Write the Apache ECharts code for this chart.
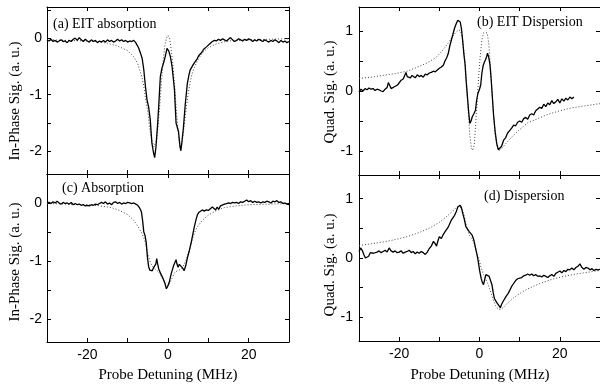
<!DOCTYPE html>
<html><head><meta charset="utf-8">
<script src="https://cdn.jsdelivr.net/npm/echarts@6/dist/echarts.min.js"></script>
<style>html,body{margin:0;padding:0;background:#fff}#c{width:600px;height:388px}</style>
</head><body><div id="c"></div>
<script>
// ---- tick / label values ----
const xTicks = [-30,-20,-10,0,10,20,30];
const xLabels = [-20,0,20];
const yTicksIn = [-2,-1.5,-1,-0.5,0,0.5];
const yLabelsIn = [-2,-1,0];
const yTicksQuad = [-1,-0.5,0,0.5,1];
const yLabelsQuad = [-1,0,1];

// ---- (a) EIT absorption ----
const aMeasured = [[-30,-0.03],[-29.5,-0.05],[-29,-0.02],[-28.5,-0.06],[-28,-0.04],[-27.5,-0.07],[-27,-0.05],[-26.5,-0.03],[-26,-0.06],[-25.5,-0.05],[-25,-0.08],[-24.5,-0.04],[-24,-0.06],[-23.5,-0.02],[-23,0.0],[-22.5,-0.04],[-22,0.01],[-21.5,-0.03],[-21,-0.06],[-20.5,-0.02],[-20,-0.05],[-19.5,-0.07],[-19,-0.03],[-18.5,-0.06],[-18,-0.04],[-17.5,-0.08],[-17,-0.05],[-16.5,-0.07],[-16,-0.04],[-15.5,-0.07],[-15,-0.03],[-14.5,-0.06],[-14,-0.04],[-13.5,-0.07],[-13,-0.05],[-12.5,-0.02],[-12,-0.05],[-11.5,-0.03],[-11,-0.06],[-10.5,-0.04],[-10,-0.07],[-9.5,-0.05],[-9,-0.06],[-8.5,-0.04],[-8,-0.08],[-7.7,-0.12],[-7.3,-0.17],[-6.8,-0.27],[-6.4,-0.36],[-6.0,-0.56],[-5.6,-0.85],[-5.2,-1.09],[-4.8,-1.22],[-4.4,-1.44],[-4.0,-1.85],[-3.6,-2.02],[-3.3,-2.11],[-3.0,-1.93],[-2.6,-1.55],[-2.3,-1.2],[-1.9,-0.68],[-1.5,-0.53],[-1.1,-0.44],[-0.7,-0.33],[-0.25,-0.18],[0.2,-0.23],[0.6,-0.33],[1.0,-0.5],[1.3,-0.7],[1.6,-0.91],[2.0,-1.5],[2.2,-1.55],[2.4,-1.6],[2.6,-1.65],[2.8,-1.79],[3.0,-1.93],[3.2,-1.99],[3.5,-1.8],[3.8,-1.6],[4.3,-1.15],[4.8,-0.8],[5.2,-0.65],[5.5,-0.56],[6.0,-0.5],[6.2,-0.53],[6.4,-0.45],[6.8,-0.42],[7.2,-0.37],[7.4,-0.4],[7.6,-0.31],[8.0,-0.28],[8.4,-0.25],[8.6,-0.28],[8.8,-0.2],[9.2,-0.2],[9.6,-0.15],[10.0,-0.12],[10.5,-0.09],[11,-0.06],[11.5,-0.04],[12,-0.05],[12.5,-0.02],[13,-0.04],[13.5,-0.01],[14,-0.03],[14.5,-0.05],[15,-0.02],[15.5,0.01],[16,-0.03],[16.5,-0.06],[17,-0.04],[17.5,-0.01],[18,-0.03],[18.5,-0.05],[19,-0.02],[19.5,-0.04],[20,-0.01],[20.5,-0.03],[21,-0.06],[21.5,-0.03],[22,-0.05],[22.5,-0.02],[23,-0.04],[23.5,-0.06],[24,-0.03],[24.5,-0.05],[25,-0.07],[25.5,-0.04],[26,-0.06],[26.5,-0.03],[27,-0.05],[27.5,-0.08],[28,-0.04],[28.5,-0.07],[29,-0.05],[29.5,-0.08],[30,-0.06]];
const aFit = [[-30,-0.03],[-25,-0.04],[-20,-0.05],[-17.5,-0.06],[-15,-0.09],[-12.5,-0.14],[-10,-0.22],[-8.5,-0.33],[-7.5,-0.45],[-6.5,-0.68],[-6,-0.85],[-5.5,-1.1],[-5,-1.3],[-4.5,-1.62],[-4,-1.8],[-3.5,-1.92],[-3.2,-1.94],[-2.8,-1.8],[-2.4,-1.5],[-2,-1.15],[-1.6,-0.75],[-1.2,-0.4],[-0.8,-0.14],[-0.4,0.0],[0,0.05],[0.4,0.0],[0.8,-0.2],[1.2,-0.45],[1.6,-0.8],[2.0,-1.2],[2.4,-1.55],[2.8,-1.85],[3.1,-1.94],[3.5,-1.85],[4,-1.56],[4.5,-1.25],[5,-0.98],[5.5,-0.78],[6,-0.62],[6.5,-0.52],[7.5,-0.37],[8.5,-0.26],[10,-0.17],[12,-0.1],[15,-0.05],[20,-0.03],[25,-0.02],[30,-0.01]];

// ---- (c) Absorption ----
const cMeasured = [[-30,0.0],[-29.5,0.01],[-29,-0.01],[-28.5,0.02],[-28,0.0],[-27.5,0.03],[-27,0.0],[-26.5,-0.02],[-26,0.01],[-25.5,-0.01],[-25,0.0],[-24.5,-0.02],[-24,0.01],[-23.5,-0.03],[-23,-0.01],[-22.5,-0.03],[-22,-0.02],[-21.5,-0.04],[-21,-0.03],[-20.5,-0.05],[-20,-0.04],[-19.5,-0.05],[-19,-0.03],[-18.5,-0.04],[-18,-0.02],[-17.5,-0.03],[-17,-0.01],[-16.5,0.01],[-16,-0.01],[-15.5,0.02],[-15,-0.02],[-14.5,0.0],[-14,-0.03],[-13.5,0.01],[-13,0.02],[-12.5,-0.01],[-12,0.01],[-11.5,-0.02],[-11,0.0],[-10.5,-0.01],[-10,0.01],[-9.5,0.0],[-9,-0.01],[-8.5,0.0],[-8,-0.02],[-7.5,-0.04],[-7,-0.09],[-6.6,-0.15],[-6.3,-0.3],[-6.0,-0.5],[-5.7,-0.56],[-5.4,-0.68],[-5.1,-0.94],[-4.8,-1.1],[-4.5,-1.16],[-4.2,-1.14],[-3.9,-1.17],[-3.6,-1.12],[-3.3,-1.1],[-3.0,-1.05],[-2.8,-0.96],[-2.6,-1.04],[-2.3,-1.14],[-2.0,-1.12],[-1.8,-1.22],[-1.5,-1.25],[-1.2,-1.31],[-0.8,-1.38],[-0.4,-1.48],[0.0,-1.43],[0.3,-1.37],[0.8,-1.22],[1.1,-1.15],[1.4,-1.08],[1.7,-1.05],[2.0,-0.98],[2.2,-1.05],[2.5,-1.11],[2.8,-1.06],[3.2,-1.08],[3.6,-1.12],[4.0,-1.17],[4.4,-1.08],[4.8,-0.95],[5.3,-0.82],[5.7,-0.7],[6.1,-0.56],[6.5,-0.42],[6.9,-0.3],[7.3,-0.2],[7.7,-0.16],[8.1,-0.13],[8.5,-0.12],[9,-0.14],[9.5,-0.12],[10,-0.13],[10.5,-0.1],[11,-0.07],[11.4,-0.07],[11.8,-0.12],[12.2,-0.07],[12.6,-0.11],[13,-0.05],[13.4,-0.06],[14,-0.02],[14.5,-0.01],[15,0.0],[15.5,-0.01],[16,0.01],[16.5,0.0],[17,0.01],[17.5,-0.01],[18,0.02],[18.5,0.01],[19,0.03],[19.5,0.05],[20,0.02],[20.5,0.04],[21,0.01],[21.5,0.03],[22,0.01],[22.5,0.02],[23,0.0],[23.5,0.02],[24,0.01],[24.5,0.03],[25,0.02],[25.5,0.0],[26,0.03],[26.5,0.02],[27,0.04],[27.5,0.01],[28,0.02],[28.5,-0.01],[29,0.0],[29.5,-0.02],[30,-0.03]];
const cFit = [[-30,-0.01],[-25,-0.02],[-20,-0.03],[-17,-0.05],[-14,-0.08],[-12,-0.13],[-10,-0.2],[-8.5,-0.3],[-7.5,-0.4],[-6.5,-0.52],[-6,-0.6],[-5.5,-0.72],[-5,-0.88],[-4.5,-1.0],[-4,-1.08],[-3.5,-1.12],[-3,-1.15],[-2.5,-1.18],[-2,-1.22],[-1.5,-1.28],[-1,-1.35],[-0.5,-1.4],[0,-1.43],[0.5,-1.38],[1,-1.3],[1.5,-1.22],[2,-1.18],[2.5,-1.17],[3,-1.15],[3.5,-1.12],[4,-1.06],[4.5,-0.98],[5,-0.88],[5.5,-0.76],[6,-0.64],[6.5,-0.53],[7,-0.45],[7.5,-0.39],[8.5,-0.3],[10,-0.21],[12,-0.13],[14,-0.08],[17,-0.05],[20,-0.03],[25,-0.02],[30,-0.01]];

// ---- (b) EIT Dispersion ----
const bMeasured = [[-30,-0.02],[-29.5,0.03],[-29,0.0],[-28.5,0.04],[-28,0.02],[-27.5,0.05],[-27,0.03],[-26.5,0.04],[-26,0.01],[-25.5,0.03],[-25,0.02],[-24.5,0.0],[-24,-0.01],[-23.5,0.03],[-23,0.06],[-22.7,0.14],[-22.4,0.1],[-22,0.04],[-21.6,0.03],[-21.2,0.07],[-20.8,0.05],[-20.4,0.1],[-20,0.12],[-19.5,0.18],[-19,0.2],[-18.6,0.2],[-18.3,0.31],[-18,0.24],[-17.6,0.27],[-17.2,0.22],[-16.8,0.26],[-16.4,0.24],[-16,0.22],[-15.5,0.27],[-15,0.24],[-14.5,0.26],[-14,0.23],[-13.5,0.28],[-13,0.27],[-12.5,0.3],[-12,0.31],[-11.5,0.33],[-11,0.32],[-10.5,0.35],[-10,0.38],[-9.5,0.4],[-9,0.43],[-8.6,0.5],[-8.2,0.55],[-7.8,0.62],[-7.4,0.75],[-7,0.85],[-6.6,0.95],[-6.2,1.05],[-5.8,1.12],[-5.4,1.18],[-5.1,1.21],[-4.8,1.15],[-4.5,1.04],[-4.2,0.85],[-3.9,0.62],[-3.6,0.45],[-3.3,0.15],[-3.0,-0.1],[-2.7,-0.35],[-2.4,-0.54],[-2.1,-0.5],[-1.8,-0.43],[-1.4,-0.38],[-1.0,-0.32],[-0.7,-0.15],[-0.4,-0.04],[0.0,0.03],[0.3,0.1],[0.6,0.3],[0.9,0.42],[1.2,0.48],[1.5,0.52],[1.8,0.58],[2.0,0.63],[2.3,0.56],[2.6,0.44],[2.9,0.2],[3.2,-0.1],[3.5,-0.4],[3.9,-0.68],[4.3,-0.88],[4.7,-0.98],[5.1,-0.99],[5.5,-0.92],[6,-0.82],[6.5,-0.78],[7,-0.7],[7.5,-0.66],[8,-0.62],[8.5,-0.57],[9,-0.58],[9.5,-0.52],[10,-0.5],[10.5,-0.52],[11,-0.46],[11.5,-0.44],[12,-0.47],[12.5,-0.4],[13,-0.38],[13.5,-0.4],[14,-0.33],[14.5,-0.3],[15,-0.27],[15.5,-0.29],[16,-0.22],[16.5,-0.26],[17,-0.2],[17.5,-0.23],[18,-0.16],[18.5,-0.21],[19,-0.18],[19.5,-0.14],[20,-0.2],[20.5,-0.13],[21,-0.17],[21.5,-0.12],[22,-0.15],[22.5,-0.1],[23,-0.13],[23.5,-0.1]];
const bFit = [[-30,0.21],[-27,0.23],[-24,0.26],[-21,0.29],[-18,0.33],[-15,0.41],[-13,0.47],[-11,0.55],[-9.5,0.65],[-8,0.78],[-7,0.88],[-6,0.97],[-5.2,1.02],[-4.7,1.0],[-4.2,0.85],[-3.7,0.55],[-3.2,0.1],[-2.8,-0.35],[-2.4,-0.75],[-2.0,-0.95],[-1.7,-0.99],[-1.3,-0.9],[-1.0,-0.6],[-0.6,-0.2],[-0.2,0.25],[0.2,0.6],[0.6,0.85],[1.0,0.97],[1.4,1.0],[1.9,0.97],[2.3,0.8],[2.7,0.45],[3.1,0.0],[3.5,-0.4],[3.9,-0.72],[4.4,-0.92],[4.9,-0.99],[5.5,-0.96],[6.5,-0.88],[8,-0.77],[9.7,-0.66],[12,-0.53],[14.5,-0.46],[17,-0.39],[20,-0.33],[23,-0.28],[26,-0.25],[30,-0.21]];

// ---- (d) Dispersion ----
const dMeasured = [[-30,0.11],[-29.6,0.17],[-29.2,0.13],[-28.8,0.06],[-28.4,0.0],[-28,-0.02],[-27.6,0.03],[-27.2,0.09],[-26.8,0.1],[-26.4,0.08],[-26,0.11],[-25.5,0.1],[-25,0.12],[-24.5,0.09],[-24,0.11],[-23.5,0.13],[-23,0.1],[-22.5,0.17],[-22,0.12],[-21.5,0.1],[-21,0.12],[-20.5,0.09],[-20,0.1],[-19.5,0.12],[-19,0.08],[-18.5,0.1],[-18,0.11],[-17.5,0.13],[-17,0.09],[-16.5,0.11],[-16,0.07],[-15.5,0.1],[-15,0.08],[-14.5,0.11],[-14,0.09],[-13.5,0.06],[-13,0.1],[-12.5,0.16],[-12,0.2],[-11.5,0.28],[-11,0.24],[-10.7,0.2],[-10.3,0.3],[-10,0.36],[-9.5,0.33],[-9,0.4],[-8.6,0.44],[-8.2,0.42],[-7.8,0.52],[-7.4,0.55],[-7,0.64],[-6.6,0.68],[-6.2,0.72],[-5.8,0.78],[-5.4,0.86],[-5.1,0.83],[-4.8,0.89],[-4.5,0.85],[-4.2,0.76],[-3.8,0.66],[-3.4,0.53],[-3.0,0.5],[-2.6,0.45],[-2.2,0.42],[-1.8,0.38],[-1.4,0.3],[-1.0,0.17],[-0.6,0.05],[-0.3,-0.06],[0.0,-0.2],[0.4,-0.34],[0.7,-0.41],[1.0,-0.45],[1.3,-0.36],[1.6,-0.28],[2.0,-0.26],[2.4,-0.31],[2.8,-0.33],[3.1,-0.45],[3.4,-0.58],[3.7,-0.68],[4.0,-0.72],[4.4,-0.76],[4.8,-0.8],[5.2,-0.84],[5.5,-0.78],[5.9,-0.73],[6.3,-0.7],[6.7,-0.64],[7.1,-0.6],[7.5,-0.55],[8,-0.48],[8.5,-0.43],[9,-0.38],[9.5,-0.35],[10,-0.34],[10.5,-0.33],[11,-0.3],[11.5,-0.29],[12,-0.27],[12.5,-0.29],[13,-0.27],[13.5,-0.3],[14,-0.28],[14.5,-0.31],[15,-0.3],[15.5,-0.32],[16,-0.29],[16.5,-0.31],[17,-0.33],[17.5,-0.3],[18,-0.28],[18.5,-0.31],[19,-0.26],[19.5,-0.24],[20,-0.22],[20.5,-0.25],[21,-0.21],[21.5,-0.23],[22,-0.19],[22.5,-0.2],[23,-0.17],[23.5,-0.2],[24,-0.16],[24.5,-0.14],[25,-0.1],[25.5,-0.16],[26,-0.19],[26.5,-0.16],[27,-0.17],[27.5,-0.2],[28,-0.18],[28.5,-0.21],[29,-0.19],[29.5,-0.2],[30,-0.19]];
const dFit = [[-30,0.21],[-27,0.24],[-24,0.27],[-21,0.31],[-18,0.36],[-15,0.43],[-12,0.52],[-10,0.6],[-8.5,0.68],[-7,0.77],[-6,0.84],[-5.2,0.87],[-4.5,0.84],[-4,0.76],[-3.5,0.62],[-3,0.48],[-2.5,0.38],[-2,0.33],[-1.5,0.28],[-1,0.18],[-0.5,0.05],[0,-0.06],[0.5,-0.18],[1,-0.28],[1.5,-0.35],[2,-0.42],[2.5,-0.52],[3,-0.62],[3.5,-0.72],[4,-0.8],[4.6,-0.86],[5.2,-0.87],[6,-0.83],[7,-0.76],[8.5,-0.67],[10,-0.6],[12,-0.52],[15,-0.43],[18,-0.36],[21,-0.31],[24,-0.27],[27,-0.24],[30,-0.21]];

const panels = [
  {grid:{left:47, top:7, width:242, height:167}, ymin:-2.4, ymax:0.55, yt:yTicksIn, yl:yLabelsIn, xlab:false, meas:aMeasured, fit:aFit},
  {grid:{left:47, top:174, width:242, height:168}, ymin:-2.4, ymax:0.5, yt:yTicksIn, yl:yLabelsIn, xlab:true, meas:cMeasured, fit:cFit},
  {grid:{left:359, top:7, width:243, height:168}, ymin:-1.4, ymax:1.4, yt:yTicksQuad, yl:yLabelsQuad, xlab:false, meas:bMeasured, fit:bFit},
  {grid:{left:359, top:175, width:243, height:166}, ymin:-1.4, ymax:1.4, yt:yTicksQuad, yl:yLabelsQuad, xlab:true, meas:dMeasured, fit:dFit}
];

const lineCol = '#000';
const tickFont = {color:'#000', fontFamily:'Liberation Sans', fontSize:14};
const grids=[], xAxes=[], yAxes=[], series=[];
panels.forEach((p,i)=>{
  grids.push(Object.assign({containLabel:false}, p.grid));
  const xBase = {type:'value', gridIndex:i, min:-30, max:30, splitLine:{show:false},
    axisLine:{show:true, onZero:false, lineStyle:{color:lineCol, width:1}},
    axisTick:{show:true, inside:true, length:4, customValues:xTicks, lineStyle:{color:lineCol}}};
  xAxes.push(Object.assign({}, xBase, {position:'bottom',
    axisLabel:{show:p.xlab, customValues:xLabels, margin:6, ...tickFont}}));
  xAxes.push(Object.assign({}, xBase, {position:'top', axisLabel:{show:false}}));
  const yBase = {type:'value', gridIndex:i, min:p.ymin, max:p.ymax, splitLine:{show:false},
    axisLine:{show:true, onZero:false, lineStyle:{color:lineCol, width:1}},
    axisTick:{show:true, inside:true, length:4, customValues:p.yt, lineStyle:{color:lineCol}}};
  yAxes.push(Object.assign({}, yBase, {position:'left',
    axisLabel:{show:true, customValues:p.yl, margin:i<2?5:6, ...tickFont}}));
  yAxes.push(Object.assign({}, yBase, {position:'right', axisLabel:{show:false}}));
  series.push({type:'line', xAxisIndex:2*i, yAxisIndex:2*i, data:p.fit, showSymbol:false, smooth:false,
    lineStyle:{color:'#444', width:1, type:[1,2]}, z:2, silent:true});
  series.push({type:'line', xAxisIndex:2*i, yAxisIndex:2*i, data:p.meas, showSymbol:false,
    lineStyle:{color:'#000', width:1.3}, z:3, silent:true});
});

const serif = 'Liberation Serif';
const txt = (x,y,s,opt)=>Object.assign({type:'text', x:x, y:y, silent:true,
  style:Object.assign({text:s, fill:'#000', font:'15px "'+serif+'"', textAlign:'center', textVerticalAlign:'middle'}, opt||{})});
const rot = (x,y,s)=>{const t=txt(x,y,s); t.rotation=Math.PI/2; return t;};

const graphics = [
  rot(15,101,'In-Phase Sig. (a. u.)'),
  rot(15,262,'In-Phase Sig. (a. u.)'),
  rot(330,92,'Quad. Sig. (a. u.)'),
  rot(330,265,'Quad. Sig. (a. u.)'),
  txt(168,375,'Probe Detuning (MHz)'),
  txt(480,375,'Probe Detuning (MHz)'),
  txt(53,24,'(a) EIT absorption',{textAlign:'left', font:'14px "'+serif+'"'}),
  txt(477,22,'(b) EIT Dispersion',{textAlign:'left', font:'14px "'+serif+'"'}),
  txt(62,188,'(c) Absorption',{textAlign:'left', font:'14px "'+serif+'"'}),
  txt(484,196,'(d) Dispersion',{textAlign:'left', font:'14px "'+serif+'"'})
];

const chart = echarts.init(document.getElementById('c'), null, {renderer:'canvas'});
chart.setOption({animation:false, backgroundColor:'#fff', grid:grids, xAxis:xAxes, yAxis:yAxes, series:series, graphic:graphics});
</script></body></html>
